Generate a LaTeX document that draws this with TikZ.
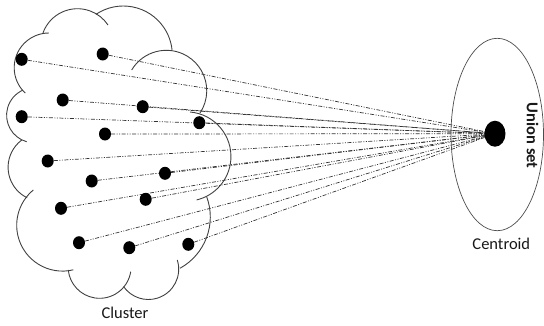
\documentclass[tikz,border=0pt]{standalone}
\usepackage{fontspec}
\setmainfont{Carlito}
\usetikzlibrary{shapes.geometric,backgrounds}
\begin{document}
\begin{tikzpicture}[x=1pt,y=-1pt,
  cloudline/.style={draw=black!75, line width=0.9pt},
  dot/.style={ellipse, fill=black, inner sep=0pt, minimum width=12pt, minimum height=13pt},
  link/.style={draw=black!80, line width=0.7pt,
    dash pattern=on 4pt off 1.5pt on 1pt off 1.5pt on 1pt off 1.5pt},
  txt/.style={font=\fontsize{16.5}{20}\selectfont, text=black!90, inner sep=0pt}]
\useasboundingbox (0,0) rectangle (544,325);

% cloud outline: one circular arc per bump (centre x, centre y, start angle, radius, end angle)
\foreach \cx/\cy/\sa/\r/\ea in {
  77.5/45.4/-160.2/36.7/-33.8,
  123.3/55/-124/49/-5.9,
  166.35/90.7/-149.1/40.4/33.5,
  186.3/156.5/-85.2/44.65/76.6,
  151.8/217/-20.3/58.5/61.2,
  148.4/269.2/-17.7/30.3/145,
  99.6/266.8/9/31.5/174.2,
  62.5/225.3/76.4/45.8/230.4,
  42.1/167.25/116/34/233.2,
  34.1/115.25/105.6/27.5/246,
  48.9/67.7/133/34.7/270}
  \draw[cloudline] ([shift={(\sa:\r)}]\cx,\cy) arc[start angle=\sa, end angle=\ea, radius=\r];

% union set and its centroid
\node[ellipse, draw=black!70, line width=0.7pt, inner sep=0pt,
      minimum width=92.5pt, minimum height=192.4pt] (set) at (497.25,134.5) {};
\node[ellipse, fill=black, inner sep=0pt, minimum width=21pt, minimum height=26pt] (c) at (495,133.7) {};

% cluster members
\node[dot] (d1) at (21.7,59.3) {};
\node[dot] (d2) at (102.7,54) {};
\node[dot] (d3) at (62.7,100) {};
\node[dot] (d4) at (142.7,106.7) {};
\node[dot] (d5) at (21.7,116.7) {};
\node[dot] (d6) at (199.3,122.7) {};
\node[dot] (d7) at (105,134) {};
\node[dot] (d8) at (47.7,161) {};
\node[dot] (d9) at (165,173.3) {};
\node[dot] (d10) at (91.7,181) {};
\node[dot] (d11) at (145.7,199.3) {};
\node[dot] (d12) at (61,208.3) {};
\node[dot] (d13) at (79,242.7) {};
\node[dot] (d14) at (129.3,247.7) {};
\node[dot] (d15) at (188.3,244.3) {};

% distances from every member to the centroid
\begin{scope}[on background layer]
  \foreach \i in {1,...,15}
    \draw[link] (d\i) -- (c.center);
\end{scope}

% labels
\node[txt] (cl) at (125,313.3) {Cluster};
\node[txt] (ce) at (501.3,244.3) {Centroid};
\node[txt, font=\fontsize{16.5}{20}\selectfont\bfseries, rotate=-90] (us) at (532.5,135.8) {Union set};
\end{tikzpicture}
\end{document}
